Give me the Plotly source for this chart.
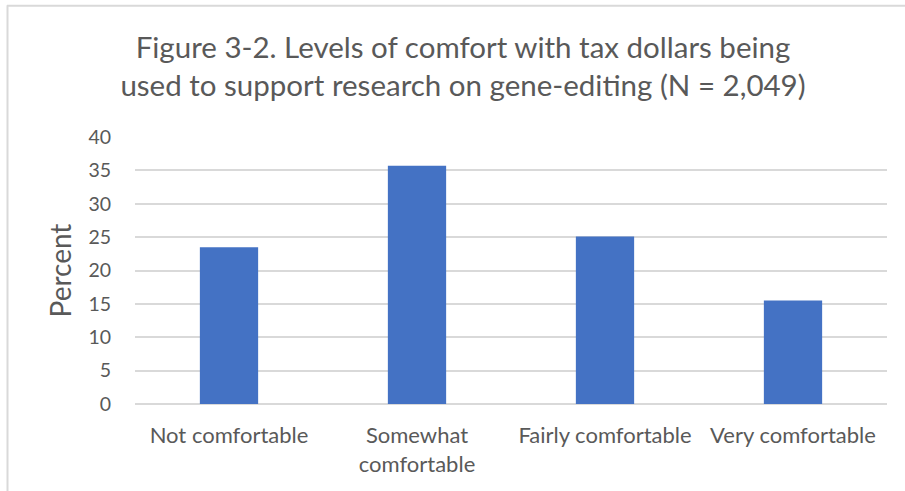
import plotly.graph_objects as go

# Survey responses: share of respondents at each comfort level
categories = ["Not comfortable", "Somewhat<br>comfortable", "Fairly comfortable", "Very comfortable"]
percent = [23.5, 35.7, 25.1, 15.5]

y_ticks = [0, 5, 10, 15, 20, 25, 30, 35, 40]

W, H = 905, 491
ML, MR, MT, MB = 135, 18, 137, 86.5
TEXT = "#595959"
GRID = "#D9D9D9"
FONT = "Lato, 'Open Sans', sans-serif"

fig = go.Figure(
    go.Bar(
        x=categories,
        y=percent,
        marker=dict(color="#4472C4", line=dict(width=0)),
        hoverinfo="x+y",
    )
)

pw = W - ML - MR
ph = H - MT - MB


def px_x(x):
    return (x - ML) / pw


def px_y(y):
    return (H - MB - y) / ph


# light frame along the top and left edges of the chart
fig.add_shape(type="line", xref="paper", yref="paper",
              x0=px_x(7), x1=px_x(W + 5), y0=px_y(5.5), y1=px_y(5.5),
              line=dict(color=GRID, width=2))
fig.add_shape(type="line", xref="paper", yref="paper",
              x0=px_x(7.5), x1=px_x(7.5), y0=px_y(5), y1=px_y(H + 5),
              line=dict(color=GRID, width=2))

fig.update_layout(
    width=W,
    height=H,
    margin=dict(l=ML, r=MR, t=MT, b=MB),
    paper_bgcolor="white",
    plot_bgcolor="white",
    bargap=0.69,
    showlegend=False,
    font=dict(family=FONT, color=TEXT),
    title=dict(
        text="Figure 3-2. Levels of comfort with tax dollars being<br>used to support research on gene-editing (N = 2,049)",
        x=463 / W,
        xanchor="center",
        y=1 - 58 / H,
        yanchor="middle",
        font=dict(family=FONT, size=29.5, color=TEXT),
    ),
    xaxis=dict(
        showgrid=False,
        showline=False,
        ticks="",
        tickfont=dict(family=FONT, size=22, color=TEXT),
        ticklabelstandoff=16,
    ),
    yaxis=dict(
        range=[0, 40],
        tickvals=y_ticks,
        showgrid=True,
        gridcolor=GRID,
        gridwidth=1.5,
        zeroline=True,
        zerolinecolor=GRID,
        zerolinewidth=1.5,
        showline=False,
        ticks="",
        tickfont=dict(family=FONT, size=19.5, color=TEXT),
        ticklabelstandoff=23,
        title=dict(text="Percent", font=dict(family=FONT, size=28, color=TEXT), standoff=8),
    ),
)

fig.write_html("out.html")
